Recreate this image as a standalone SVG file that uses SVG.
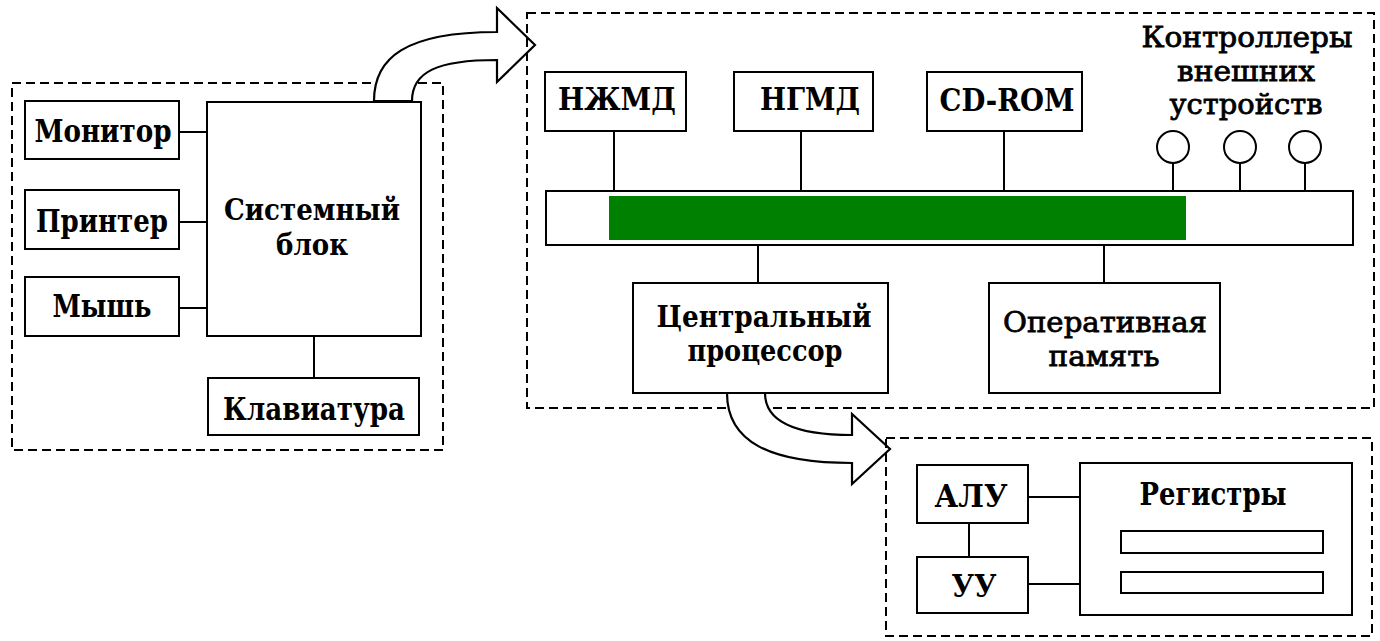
<svg xmlns="http://www.w3.org/2000/svg" width="1380" height="641" viewBox="0 0 1380 641">
  <style>
    .box { fill: #fff; stroke: #000; stroke-width: 2; }
    .frame { fill: none; stroke: #000; stroke-width: 2; stroke-dasharray: 9 5; }
    .wire { fill: none; stroke: #000; stroke-width: 2; }
    .arrow { fill: #fff; stroke: #000; stroke-width: 2.2; stroke-linejoin: miter; }
    text { font-family: "DejaVu Serif", "Liberation Serif", serif; font-size: 31px; font-weight: bold; text-anchor: middle; fill: #000; }
    text.two { font-size: 29px; }
    text.light { font-size: 28px; font-weight: normal; stroke: #000; stroke-width: 0.8; }
  </style>
  <rect width="1380" height="641" fill="#fff"/>

  <!-- PC frame -->
  <rect id="frame-pc" class="frame" x="12" y="83" width="431" height="367"/>

  <!-- arrow from the system unit into its inner structure -->
  <path id="arrow-sysunit" class="arrow" d="M374,101 C374,58 405,32 497,32 L497,8 L535,45 L497,82 L497,60 C437,60 412,72 412,101 Z"/>

  <!-- system unit frame -->
  <rect id="frame-sysunit" class="frame" x="527" y="13" width="847" height="395"/>

  <!-- arrow from the CPU into its inner structure -->
  <path id="arrow-cpu" class="arrow" d="M727,393 C727,442 770,463 852,463 L852,484 L890,449 L852,414 L852,435 C795,435 765,422 765,393 Z"/>

  <!-- CPU frame -->
  <rect id="frame-cpu" class="frame" x="886" y="438" width="486" height="198"/>

  <!-- connectors -->
  <g id="connectors" class="wire">
    <line x1="179" y1="132" x2="207" y2="132"/>
    <line x1="179" y1="222" x2="207" y2="222"/>
    <line x1="179" y1="308" x2="207" y2="308"/>
    <line x1="314" y1="336" x2="314" y2="378"/>
    <line x1="614" y1="131" x2="614" y2="191"/>
    <line x1="801" y1="131" x2="801" y2="191"/>
    <line x1="1004" y1="131" x2="1004" y2="191"/>
    <line x1="1173" y1="163" x2="1173" y2="191"/>
    <line x1="1240" y1="163" x2="1240" y2="191"/>
    <line x1="1305" y1="163" x2="1305" y2="191"/>
    <line x1="758" y1="245" x2="758" y2="283"/>
    <line x1="1104" y1="245" x2="1104" y2="283"/>
    <line x1="1028" y1="497" x2="1080" y2="497"/>
    <line x1="1028" y1="584" x2="1080" y2="584"/>
    <line x1="969" y1="523" x2="969" y2="557"/>
  </g>

  <!-- peripherals -->
  <g id="monitor">
    <rect class="box" x="25" y="101" width="154" height="58"/>
    <text x="103" y="142" textLength="137" lengthAdjust="spacingAndGlyphs">Монитор</text>
  </g>
  <g id="printer">
    <rect class="box" x="25" y="190" width="154" height="59"/>
    <text x="102" y="232" textLength="132" lengthAdjust="spacingAndGlyphs">Принтер</text>
  </g>
  <g id="mouse">
    <rect class="box" x="25" y="277" width="154" height="59"/>
    <text x="102" y="317" textLength="99" lengthAdjust="spacingAndGlyphs">Мышь</text>
  </g>
  <g id="system-unit">
    <rect class="box" x="207" y="102" width="214" height="234"/>
    <text class="two" x="312" y="220" textLength="176" lengthAdjust="spacingAndGlyphs">Системный</text>
    <text class="two" x="312" y="255" textLength="72" lengthAdjust="spacingAndGlyphs">блок</text>
  </g>
  <g id="keyboard">
    <rect class="box" x="208" y="378" width="211" height="57"/>
    <text x="314" y="420" textLength="182" lengthAdjust="spacingAndGlyphs">Клавиатура</text>
  </g>

  <!-- drives -->
  <g id="hdd">
    <rect class="box" x="545" y="72" width="141" height="59"/>
    <text x="617" y="110" textLength="118" lengthAdjust="spacingAndGlyphs">НЖМД</text>
  </g>
  <g id="fdd">
    <rect class="box" x="734" y="72" width="139" height="59"/>
    <text x="810" y="110" textLength="100" lengthAdjust="spacingAndGlyphs">НГМД</text>
  </g>
  <g id="cdrom">
    <rect class="box" x="927" y="72" width="155" height="59"/>
    <text x="1007" y="111" textLength="135" lengthAdjust="spacingAndGlyphs">CD-ROM</text>
  </g>

  <!-- external device controllers -->
  <g id="controllers">
    <text class="light" x="1247" y="47" textLength="211" lengthAdjust="spacingAndGlyphs">Контроллеры</text>
    <text class="light" x="1246" y="81" textLength="138" lengthAdjust="spacingAndGlyphs">внешних</text>
    <text class="light" x="1246" y="114" textLength="153" lengthAdjust="spacingAndGlyphs">устройств</text>
    <circle class="box" cx="1173" cy="147" r="16"/>
    <circle class="box" cx="1240" cy="147" r="16"/>
    <circle class="box" cx="1305" cy="147" r="16"/>
  </g>

  <!-- system bus -->
  <g id="bus">
    <rect class="box" x="546" y="191" width="807" height="54"/>
    <rect x="609" y="196" width="577" height="44" fill="#008000"/>
  </g>

  <!-- processor and memory -->
  <g id="cpu">
    <rect class="box" x="633" y="283" width="255" height="110"/>
    <text class="two" x="764" y="327" textLength="215" lengthAdjust="spacingAndGlyphs">Центральный</text>
    <text class="two" x="765" y="361" textLength="155" lengthAdjust="spacingAndGlyphs">процессор</text>
  </g>
  <g id="ram">
    <rect class="box" x="989" y="283" width="231" height="110"/>
    <text class="two light" x="1105" y="332" textLength="204" lengthAdjust="spacingAndGlyphs">Оперативная</text>
    <text class="two light" x="1104" y="366" textLength="111" lengthAdjust="spacingAndGlyphs">память</text>
  </g>

  <!-- CPU internals -->
  <g id="alu">
    <rect class="box" x="917" y="465" width="111" height="58"/>
    <text x="971" y="507" textLength="73" lengthAdjust="spacingAndGlyphs">АЛУ</text>
  </g>
  <g id="control-unit">
    <rect class="box" x="917" y="557" width="111" height="56"/>
    <text x="974" y="597" textLength="45" lengthAdjust="spacingAndGlyphs">УУ</text>
  </g>
  <g id="registers">
    <rect class="box" x="1080" y="463" width="272" height="152"/>
    <text x="1213" y="505" textLength="147" lengthAdjust="spacingAndGlyphs">Регистры</text>
    <rect class="box" x="1121" y="531" width="202" height="22"/>
    <rect class="box" x="1121" y="572" width="202" height="21"/>
  </g>
</svg>
